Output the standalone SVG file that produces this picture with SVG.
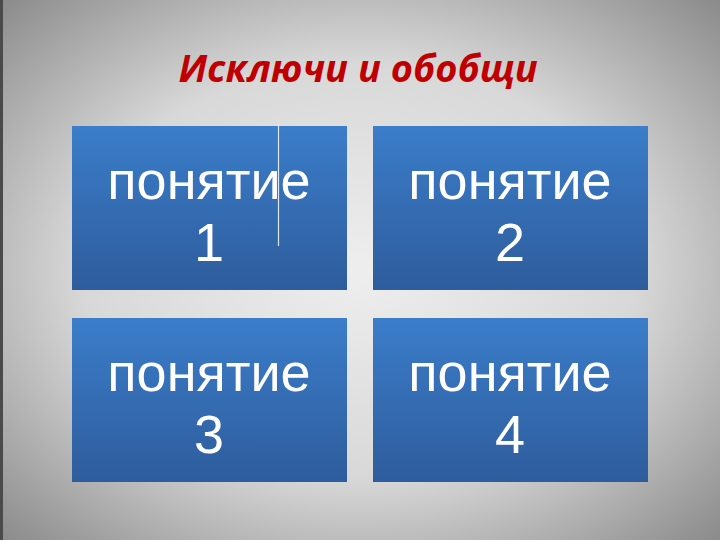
<svg xmlns="http://www.w3.org/2000/svg" width="720" height="540" viewBox="0 0 720 540">
<defs>
<radialGradient id="bg" cx="0.5" cy="0.5" r="0.7">
<stop offset="0" stop-color="#eeeeee"/>
<stop offset="0.55" stop-color="#d8d8d8"/>
<stop offset="1" stop-color="#8c8c8c"/>
</radialGradient>
<linearGradient id="box" x1="0" y1="0" x2="0" y2="1">
<stop offset="0" stop-color="#3b7dca"/>
<stop offset="1" stop-color="#2e5c9c"/>
</linearGradient>
<style>
.box{fill:url(#box);}
.lbl{font-family:"Liberation Sans",Arial,sans-serif;font-size:54px;fill:#ffffff;text-anchor:middle;}
.title{font-family:"Open Sans","Liberation Sans",sans-serif;font-size:38px;font-weight:bold;font-style:italic;fill:#c00000;text-anchor:middle;}
</style>
</defs>
<rect width="720" height="540" fill="url(#bg)"/>
<rect x="0" y="0" width="3" height="540" fill="#4a4a4a"/>
<text class="title" x="358" y="82">Исключи и обобщи</text>
<g id="node1">
<rect class="box" x="72" y="126" width="275" height="164"/>
<text class="lbl" x="209" y="199">понятие</text>
<text class="lbl" x="209" y="261">1</text>
</g>
<g id="node2">
<rect class="box" x="373" y="126" width="275" height="164"/>
<text class="lbl" x="510" y="199">понятие</text>
<text class="lbl" x="510" y="261">2</text>
</g>
<g id="node3">
<rect class="box" x="72" y="318" width="275" height="164"/>
<text class="lbl" x="209" y="391">понятие</text>
<text class="lbl" x="209" y="453">3</text>
</g>
<g id="node4">
<rect class="box" x="373" y="318" width="275" height="164"/>
<text class="lbl" x="510" y="391">понятие</text>
<text class="lbl" x="510" y="453">4</text>
</g>
<g id="connectors">
<line x1="278.5" y1="124" x2="278.5" y2="246" stroke="#dfe9f5" stroke-width="1.2"/>
</g>
</svg>
